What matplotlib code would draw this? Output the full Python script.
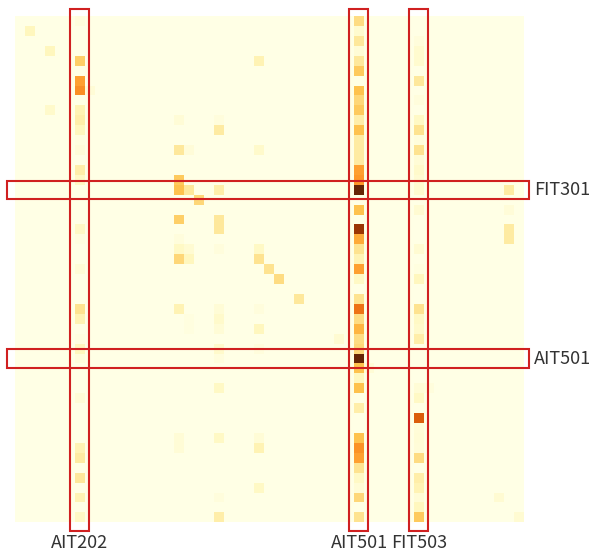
import numpy as np
import matplotlib
matplotlib.use('Agg')
import matplotlib.pyplot as plt
from matplotlib.patches import Rectangle

# SWaT sensor / actuator names (51 features)
features = ['FIT101', 'LIT101', 'MV101', 'P101', 'P102', 'AIT201', 'AIT202', 'AIT203',
            'FIT201', 'MV201', 'P201', 'P202', 'P203', 'P204', 'P205', 'P206',
            'DPIT301', 'FIT301', 'LIT301', 'MV301', 'MV302', 'MV303', 'MV304', 'P301',
            'P302', 'AIT401', 'AIT402', 'FIT401', 'LIT401', 'P401', 'P402', 'P403',
            'P404', 'UV401', 'AIT501', 'AIT502', 'AIT503', 'AIT504', 'FIT501', 'FIT502',
            'FIT503', 'FIT504', 'P501', 'P502', 'PIT501', 'PIT502', 'PIT503', 'FIT601',
            'P601', 'P602', 'P603']

highlight_cols = ['AIT202', 'AIT501', 'FIT503']
highlight_rows = ['FIT301', 'AIT501']

# non-zero cells of the weight matrix (row, col, value)
# column AIT202
rows_a = [0, 4, 6, 7, 9, 10, 11, 12, 13, 15, 16, 21, 22, 25, 29, 30, 32, 33, 34, 38, 43, 44, 46, 48, 50]
vals_a = [0.03, 0.33, 0.48, 0.53, 0.15, 0.18, 0.12, 0.02, 0.04, 0.18, 0.1, 0.1, 0.02, 0.05, 0.25,
          0.15, 0.02, 0.12, 0.03, 0.05, 0.15, 0.2, 0.22, 0.15, 0.1]
# column AIT501
rows_b = [0, 1, 2, 3, 4, 5, 7, 8, 9, 10, 11, 12, 13, 14, 15, 16, 17, 19, 21, 22, 23, 24, 25, 26,
          28, 29, 30, 31, 32, 33, 34, 35, 36, 37, 39, 42, 43, 44, 45, 46, 47, 48, 50]
vals_b = [0.28, 0.07, 0.22, 0.05, 0.22, 0.35, 0.38, 0.3, 0.35, 0.18, 0.38, 0.2, 0.2, 0.2, 0.48,
          0.5, 1.0, 0.38, 0.87, 0.45, 0.25, 0.15, 0.48, 0.1, 0.25, 0.62, 0.28, 0.42, 0.28, 0.3,
          1.0, 0.38, 0.12, 0.38, 0.18, 0.38, 0.52, 0.48, 0.25, 0.1, 0.05, 0.3, 0.25]
# column FIT503
rows_c = [2, 3, 4, 6, 8, 10, 11, 12, 13, 14, 15, 16, 17, 19, 23, 25, 26, 29, 30, 31, 32, 37, 38,
          40, 41, 42, 43, 44, 46, 47, 48, 49, 50]
vals_c = [0.03, 0.07, 0.07, 0.22, 0.03, 0.1, 0.25, 0.03, 0.25, 0.05, 0.08, 0.06, 0.07, 0.06, 0.06,
          0.02, 0.12, 0.25, 0.1, 0.08, 0.18, 0.05, 0.1, 0.69, 0.04, 0.05, 0.04, 0.28, 0.18, 0.15,
          0.05, 0.12, 0.35]
# everything else
other_rows = [1, 3, 9, 7, 4, 10, 10, 11, 13, 13, 13, 16, 17, 17, 17, 17, 18, 19, 20, 20, 21, 21,
              22, 22, 23, 23, 23, 23, 24, 24, 24, 25, 26, 28, 29, 29, 29, 30, 30, 31, 31, 31, 32,
              33, 33, 34, 35, 37, 37, 42, 42, 42, 43, 43, 47, 48, 48, 50, 50]
other_cols = [1, 3, 3, 7, 24, 16, 20, 20, 16, 17, 24, 16, 16, 17, 20, 49, 18, 49, 16, 20, 20, 49,
              16, 49, 16, 17, 20, 24, 16, 17, 24, 25, 26, 28, 16, 20, 24, 20, 17, 20, 24, 17, 32,
              20, 24, 20, 35, 20, 41, 16, 20, 24, 16, 24, 24, 20, 48, 20, 50]
other_vals = [0.12, 0.12, 0.08, 0.05, 0.15, 0.05, 0.03, 0.2, 0.22, 0.04, 0.08, 0.35, 0.38, 0.22,
              0.18, 0.2, 0.3, 0.04, 0.33, 0.22, 0.22, 0.2, 0.03, 0.2, 0.1, 0.06, 0.03, 0.1, 0.3,
              0.12, 0.25, 0.25, 0.28, 0.22, 0.15, 0.05, 0.03, 0.08, 0.02, 0.05, 0.12, 0.02, 0.06,
              0.08, 0.03, 0.03, 0.05, 0.1, 0.03, 0.05, 0.1, 0.05, 0.05, 0.15, 0.1, 0.03, 0.06,
              0.18, 0.06]

n = len(features)
weights = np.zeros((n, n))
for r, v in zip(rows_a, vals_a):
    weights[r, features.index('AIT202')] = v
for r, v in zip(rows_b, vals_b):
    weights[r, features.index('AIT501')] = v
for r, v in zip(rows_c, vals_c):
    weights[r, features.index('FIT503')] = v
for r, c, v in zip(other_rows, other_cols, other_vals):
    weights[r, c] = v

fig = plt.figure(figsize=(5.97, 5.56), dpi=100)
ax = fig.add_axes([0.0246, 0.0606, 0.853, 0.9106])
ax.pcolormesh(weights, cmap='YlOrBr', vmin=0, vmax=1)
ax.set_xlim(0, n)
ax.set_ylim(n, 0)
ax.axis('off')

box_col = '#d02020'
label_font = ['Noto Sans CJK SC', 'DejaVu Sans']

for name in highlight_cols:
    c = features.index(name)
    ax.add_patch(Rectangle((c - 0.5, -0.74), 1.9, n + 1.58, fill=False,
                           edgecolor=box_col, linewidth=1.5, clip_on=False))
    ax.text(c + 0.5, n + 1.15, name, ha='center', va='top', fontsize=13,
            color='#333333', family=label_font, clip_on=False)

for name in highlight_rows:
    r = features.index(name)
    ax.add_patch(Rectangle((-0.74, r - 0.42), n + 1.24, 1.84, fill=False,
                           edgecolor=box_col, linewidth=1.5, clip_on=False))
    ax.text(n + 1.05, r + 0.5, name, ha='left', va='center', fontsize=13,
            color='#333333', family=label_font, clip_on=False)

plt.savefig('out.png', dpi=100)
